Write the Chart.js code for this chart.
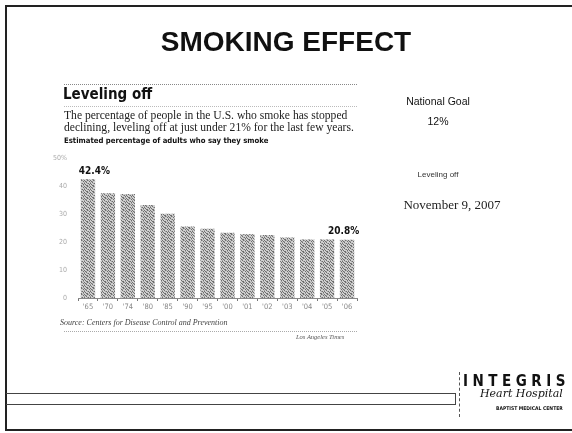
<!DOCTYPE html>
<html>
<head>
<meta charset="utf-8">
<script src="https://cdn.jsdelivr.net/npm/chart.js@4.4.1/dist/chart.umd.min.js"></script>
<style>
  html,body{margin:0;padding:0;background:#fff;}
  #wrap{position:relative;width:572px;height:433px;overflow:hidden;background:#fff;}
  canvas{position:absolute;left:0;top:0;}
  .t{position:absolute;white-space:nowrap;color:#111;}
  .line{position:absolute;}
</style>
</head>
<body>
<div id="wrap">
  <canvas id="c" width="572" height="433"></canvas>

  <!-- slide frame -->
  <div class="line" style="left:6px;top:5px;width:566px;height:0;border-top:2px solid #222;"></div>
  <div class="line" style="left:5px;top:5px;width:0;height:426px;border-left:2px solid #222;"></div>
  <div class="line" style="left:5px;top:429px;width:567px;height:0;border-top:2px solid #222;"></div>
  <!-- bottom bar -->
  <div class="line" style="left:6px;top:393px;width:449px;height:10px;border:1px solid #444;border-left:none;"></div>
  <!-- logo -->
  <div class="line" style="left:459px;top:372px;width:107px;height:45px;border-left:1px dashed #555;"></div>
  <div class="t" style="left:463px;top:372px;font-family:'DejaVu Sans Condensed',sans-serif;font-weight:bold;font-size:15px;letter-spacing:4.5px;">INTEGRIS</div>
  <div class="t" style="left:480px;top:387px;font-family:'DejaVu Serif',serif;font-style:italic;font-size:11px;">Heart Hospital</div>
  <div class="t" style="left:496px;top:405px;font-family:'DejaVu Sans Condensed',sans-serif;font-weight:bold;font-size:5px;">BAPTIST MEDICAL CENTER</div>

  <!-- title -->
  <div class="t" style="left:0;width:572px;text-align:center;top:26px;font-family:'Liberation Sans',Arial,sans-serif;font-weight:bold;font-size:28px;">SMOKING EFFECT</div>

  <!-- chart header -->
  <div class="line" style="left:64px;top:84px;width:293px;height:0;border-top:1px dotted #888;"></div>
  <div class="t" style="left:63px;top:85px;font-family:'DejaVu Sans Condensed',sans-serif;font-weight:bold;font-size:15px;">Leveling off</div>
  <div class="line" style="left:64px;top:106px;width:293px;height:0;border-top:1px dotted #bbb;"></div>
  <div class="t" style="left:64px;top:110px;font-family:'Liberation Serif','Times New Roman',serif;font-size:11.6px;line-height:12px;color:#222;">The percentage of people in the U.S. who smoke has stopped<br>declining, leveling off at just under 21% for the last few years.</div>
  <div class="t" style="left:64px;top:136px;font-family:'DejaVu Sans Condensed',sans-serif;font-weight:bold;font-size:7.7px;">Estimated percentage of adults who say they smoke</div>

  <!-- source -->
  <div class="t" style="left:60px;top:318px;font-family:'Liberation Serif',serif;font-style:italic;font-size:8px;color:#444;">Source: Centers for Disease Control and Prevention</div>
  <div class="line" style="left:64px;top:331px;width:293px;height:0;border-top:1px dotted #aaa;"></div>
  <div class="t" style="left:296px;top:333px;font-family:'Liberation Serif',serif;font-style:italic;font-size:6.5px;color:#555;">Los Angeles Times</div>

  <!-- right side notes -->
  <div class="t" style="left:380px;width:116px;text-align:center;top:95px;font-family:'Liberation Sans',Arial,sans-serif;font-size:10.5px;">National Goal</div>
  <div class="t" style="left:380px;width:116px;text-align:center;top:115px;font-family:'Liberation Sans',Arial,sans-serif;font-size:10.5px;">12%</div>
  <div class="t" style="left:380px;width:116px;text-align:center;top:170px;font-family:'Liberation Sans',Arial,sans-serif;font-size:8px;color:#333;">Leveling off</div>
  <div class="t" style="left:382px;width:140px;text-align:center;top:197px;font-family:'Liberation Serif','Times New Roman',serif;font-size:13px;color:#222;">November 9, 2007</div>
</div>
<script>
const categories = ["'65","'70","'74","'80","'85","'90","'95","'00","'01","'02","'03","'04","'05","'06"];
const smokingRate = [42.4, 37.4, 37.1, 33.2, 30.1, 25.5, 24.7, 23.3, 22.8, 22.5, 21.6, 20.9, 20.9, 20.8];
const yTickLabels = {0:'0', 10:'10', 20:'20', 30:'30', 40:'40', 50:'50%'};
const annotated = {0:'42.4%', 13:'20.8%'};

// stipple fill for bars (fixed dot layout)
const pc = document.createElement('canvas');
pc.width = 6; pc.height = 6;
const px = pc.getContext('2d');
px.fillStyle = '#cfcfcf'; px.fillRect(0,0,6,6);
px.fillStyle = '#6e6e6e';
[[0,0],[3,0],[1,1],[5,1],[2,2],[4,3],[0,3],[1,4],[3,5],[5,4],[2,5]].forEach(p=>px.fillRect(p[0],p[1],1,1));
px.fillStyle = '#a0a0a0';
[[4,0],[0,2],[3,3],[5,5],[2,1]].forEach(p=>px.fillRect(p[0],p[1],1,1));
const pattern = document.getElementById('c').getContext('2d').createPattern(pc,'repeat');

const labelPlugin = {
  id:'barLabels',
  afterDatasetsDraw(chart){
    const ctx = chart.ctx;
    const meta = chart.getDatasetMeta(0);
    ctx.save();
    ctx.font = 'bold 10px "DejaVu Sans Condensed", "Liberation Sans", sans-serif';
    ctx.fillStyle = '#111';
    ctx.textBaseline = 'bottom';
    Object.keys(annotated).forEach(k=>{
      const el = meta.data[+k];
      const last = (+k === smokingRate.length-1);
      ctx.textAlign = last ? 'right' : 'left';
      const x = last ? el.x + el.width/2 + 5 : el.x - el.width/2 - 2;
      ctx.fillText(annotated[k], x, el.y - 3);
    });
    ctx.restore();
  }
};

new Chart(document.getElementById('c'), {
  type:'bar',
  data:{
    labels:categories,
    datasets:[{data:smokingRate, backgroundColor:pattern, borderWidth:0,
      barPercentage:0.72, categoryPercentage:1.0}]
  },
  options:{
    responsive:false, animation:false,
    layout:{padding:{left:48, top:158, right:215, bottom:115}},
    plugins:{legend:{display:false}, tooltip:{enabled:false}},
    scales:{
      x:{
        grid:{display:true, drawOnChartArea:false, tickLength:3, color:'#777'},
        border:{display:true, color:'#888', dash:[1,1]},
        ticks:{color:'#888', font:{size:7.5, family:'"DejaVu Sans Condensed", sans-serif'}, padding:2, maxRotation:0, autoSkip:false},
        afterFit(s){ s.height = 20; }
      },
      y:{
        min:0, max:50,
        grid:{display:false},
        border:{display:false},
        ticks:{stepSize:10, color:'#aaa', font:{size:7, family:'"DejaVu Sans Condensed", sans-serif'}, padding:3,
          callback:(v)=>yTickLabels[v]},
        afterFit(s){ s.width = 30; }
      }
    }
  },
  plugins:[labelPlugin]
});
</script>
</body>
</html>
